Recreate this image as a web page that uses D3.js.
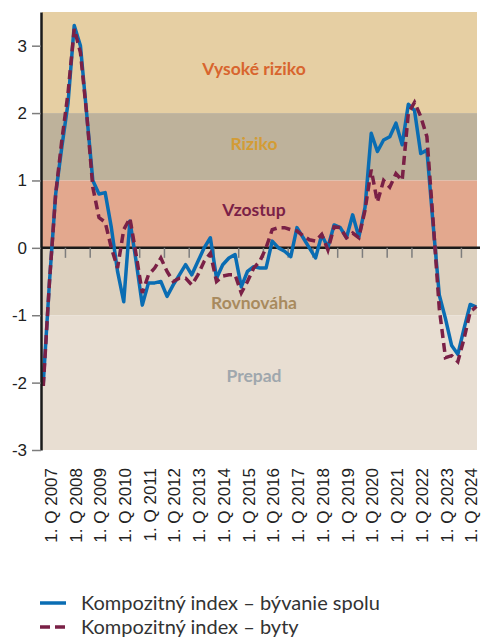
<!DOCTYPE html>
<html>
<head>
<meta charset="utf-8">
<script src="https://cdn.jsdelivr.net/npm/d3@7"></script>
<style>
  body { margin: 0; background: #fff; }
  #d3-container { width: 481px; height: 637px; }
  .axis text { font-family: "Liberation Sans", Arial, sans-serif; fill: #222; }
  .band-label { font-family: Lato, "Open Sans", sans-serif; font-weight: 700; font-size: 17.5px; }
  .legend text { font-family: Lato, "Open Sans", sans-serif; font-size: 20px; fill: #333; }
</style>
</head>
<body>
<div id="d3-container"></div>
<script>
/**
 * DATA
 * quarters from 1. Q 2007 to 3. Q 2024
 * */
const yearLabels = d3.range(2007, 2025).map(y => "1. Q " + y);

// Kompozitný index – bývanie spolu
const bluValues = [
  -2.0, -0.5, 0.8, 1.5, 2.15, 3.3, 3.0, 2.0,
  1.0, 0.8, 0.82, 0.3, -0.35, -0.8, 0.4, -0.2,
  -0.85, -0.52, -0.52, -0.5, -0.72, -0.55, -0.4, -0.25,
  -0.4, -0.2, 0.0, 0.15, -0.45, -0.25, -0.15, -0.1,
  -0.58, -0.35, -0.28, -0.3, -0.3, 0.1, 0.0, -0.05,
  -0.13, 0.3, 0.15, 0.0, -0.15, 0.19, 0.01, 0.34,
  0.3, 0.15, 0.49, 0.16, 0.6, 1.7, 1.43, 1.6,
  1.65, 1.85, 1.53, 2.13, 2.04, 1.4, 1.45, 0.35,
  -0.7, -1.05, -1.45, -1.58, -1.2, -0.84, -0.88
];

// Kompozitný index – byty
const bytValues = [
  -2.05, -0.5, 0.8, 1.6, 2.3, 3.25, 2.9, 2.0,
  0.9, 0.45, 0.38, 0.0, -0.3, 0.27, 0.44, -0.1,
  -0.67, -0.4, -0.3, -0.15, -0.35, -0.5, -0.45, -0.45,
  -0.55, -0.4, -0.2, -0.08, -0.5, -0.42, -0.4, -0.4,
  -0.67, -0.5, -0.3, -0.2, 0.0, 0.27, 0.3, 0.3,
  0.27, 0.25, 0.18, 0.12, 0.1, 0.2, -0.03, 0.31,
  0.3, 0.15, 0.22, 0.15, 0.56, 1.16, 0.68, 1.0,
  0.9, 1.1, 1.0, 2.0, 2.16, 1.95, 1.65, 0.4,
  -0.9, -1.63, -1.6, -1.69, -1.35, -0.95, -0.87
];

// pásma rizika
const bandNames = ["Vysoké riziko", "Riziko", "Vzostup", "Rovnováha", "Prepad"];
const bandFrom = [2, 1, 0, -1, -3];
const bandTo = [3.5, 2, 1, 0, -1];
const bandLabelAt = [2.65, 1.55, 0.56, -0.81, -1.9];

const yTicks = [-3, -2, -1, 0, 1, 2, 3];

const seriesNames = ["Kompozitný index – bývanie spolu", "Kompozitný index – byty"];

/**
 * CONSTANTS
 * */
var width = 481,
  height = 637,
  margin = { top: 12, bottom: 187, left: 41, right: 2 };

const bandFill = ["#e6cfa3", "#beb29b", "#e3a88e", "#ddd1bf", "#e8ded2"];
const bandText = ["#d8652e", "#d39c35", "#7a2147", "#a88a5e", "#9fa7ad"];
const lineColors = ["#0a6db3", "#7a2046"];

let svg;

init();

function init() {
  svg = d3.select("#d3-container")
    .append("svg")
    .attr("width", width)
    .attr("height", height);

  const n = bluValues.length;

  const xScale = d3.scaleLinear()
    .domain([0, n - 1])
    .range([43.3, 476.4]);

  const yScale = d3.scaleLinear()
    .domain([-3, 3.5])
    .range([height - margin.bottom, margin.top]);

  // bands
  svg.append("g")
    .selectAll("rect")
    .data(bandNames)
    .join("rect")
    .attr("x", margin.left + 1)
    .attr("width", 477 - margin.left - 1)
    .attr("y", (d, i) => yScale(bandTo[i]))
    .attr("height", (d, i) => yScale(bandFrom[i]) - yScale(bandTo[i]))
    .attr("fill", (d, i) => bandFill[i]);

  svg.append("g")
    .selectAll("text")
    .data(bandNames)
    .join("text")
    .attr("class", "band-label")
    .attr("x", 254)
    .attr("y", (d, i) => yScale(bandLabelAt[i]))
    .attr("dy", "0.35em")
    .attr("text-anchor", "middle")
    .attr("fill", (d, i) => bandText[i])
    .text(d => d);

  // zero line with year ticks
  const yearStarts = d3.range(0, n, 4);
  const zeroAxis = svg.append("g")
    .attr("class", "axis")
    .attr("transform", `translate(0,${yScale(0)})`)
    .call(d3.axisBottom(xScale)
      .tickValues(yearStarts.slice(1).map(d => d - 0.5))
      .tickSize(10)
      .tickSizeOuter(0)
      .tickFormat(""));
  zeroAxis.select(".domain")
    .attr("d", `M${margin.left},0H480`)
    .attr("stroke", "#1a1a1a")
    .attr("stroke-width", 2.5);
  zeroAxis.selectAll(".tick line")
    .attr("stroke", "#7d7d7d")
    .attr("stroke-width", 1.5);

  // year labels at bottom
  const labelAxis = svg.append("g")
    .attr("class", "axis")
    .attr("transform", `translate(0,${yScale(-3)})`)
    .call(d3.axisBottom(xScale)
      .tickValues(yearStarts)
      .tickSize(0)
      .tickFormat((d, i) => yearLabels[i]));
  labelAxis.select(".domain").remove();
  labelAxis.selectAll("text")
    .attr("font-size", 17)
    .attr("text-anchor", "end")
    .attr("y", 0)
    .attr("dy", "0.35em")
    .attr("transform", "translate(7,18) rotate(-90)");

  // lines
  const line = d3.line()
    .x((d, i) => xScale(i))
    .y(d => yScale(d));

  svg.append("path")
    .datum(bluValues)
    .attr("fill", "none")
    .attr("stroke", lineColors[0])
    .attr("stroke-width", 3.5)
    .attr("stroke-linejoin", "round")
    .attr("d", line);

  svg.append("path")
    .datum(bytValues)
    .attr("fill", "none")
    .attr("stroke", lineColors[1])
    .attr("stroke-width", 3.5)
    .attr("stroke-dasharray", "9,5")
    .attr("d", line);

  // y axis
  const yAxis = svg.append("g")
    .attr("class", "axis")
    .attr("transform", `translate(${margin.left},0)`)
    .call(d3.axisLeft(yScale)
      .tickValues(yTicks)
      .tickSize(9)
      .tickSizeOuter(0)
      .tickPadding(5)
      .tickFormat(d => String(d)));
  yAxis.select(".domain")
    .attr("stroke", "#1a1a1a")
    .attr("stroke-width", 2.5);
  yAxis.selectAll(".tick line")
    .attr("stroke", "#7d7d7d")
    .attr("stroke-width", 1.5);
  yAxis.selectAll("text")
    .attr("font-size", 17);

  // legend
  const legend = svg.append("g")
    .attr("class", "legend")
    .selectAll("g")
    .data(seriesNames)
    .join("g")
    .attr("transform", (d, i) => `translate(40,${603 + i * 24})`);

  legend.append("line")
    .attr("x1", 0)
    .attr("x2", 26)
    .attr("stroke", (d, i) => lineColors[i])
    .attr("stroke-width", 3.5)
    .attr("stroke-dasharray", (d, i) => i === 1 ? "10,5" : null);

  legend.append("text")
    .attr("x", 41)
    .attr("dy", "0.35em")
    .text(d => d);
}
</script>
</body>
</html>
